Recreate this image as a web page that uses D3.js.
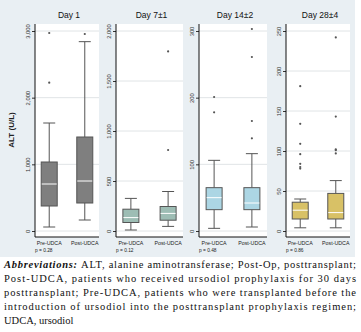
<!DOCTYPE html>
<html>
<head>
<meta charset="utf-8">
<script src="https://cdn.jsdelivr.net/npm/d3@7"></script>
<style>
  body { margin: 0; background: #fff; }
  svg text { font-family: "Liberation Sans", Arial, sans-serif; }
</style>
</head>
<body>
<script>
// panel data (ALT U/L): [lowWhisker, q1, median, q3, highWhisker]
var panelTitles = ["Day 1", "Day 7\u00b11", "Day 14\u00b12", "Day 28\u00b14"];
var groups = ["Pre-UDCA", "Post-UDCA"];
var pValues = ["p = 0.28", "p = 0.12", "p = 0.48", "p = 0.86"];

var day1Pre = [60, 375, 705, 1035, 1620];
var day1Post = [165, 420, 750, 1410, 2840];
var day7Pre = [10, 85, 134, 218, 326];
var day7Post = [46, 108, 176, 245, 395];
var day14Pre = [4, 32, 50, 65, 106];
var day14Post = [6, 32, 42, 65, 116];
var day28Pre = [4, 15, 26, 36, 40];
var day28Post = [4, 15, 23, 47, 63];

var day1Out = [[2225, 2970], [2955]];
var day7Out = [[], [810, 1796]];
var day14Out = [[178, 201], [139, 165, 261, 303]];
var day28Out = [[78, 80, 84, 96, 109, 134, 181], [97, 101, 102, 143, 242]];

var yTicks1 = [0, 1000, 2000, 3000];
var yTicks2 = [0, 500, 1000, 1500, 2000];
var yTicks3 = [0, 100, 200, 300];
var yTicks4 = [0, 50, 100, 150, 200, 250];

var boxColors = ["#7f7f7f", "#9dbdb4", "#acd6e4", "#d8c166"];

var panels = [
  {stats: [day1Pre, day1Post], out: day1Out, ticks: yTicks1, x0: 35, x1: 99},
  {stats: [day7Pre, day7Post], out: day7Out, ticks: yTicks2, x0: 116, x1: 183},
  {stats: [day14Pre, day14Post], out: day14Out, ticks: yTicks3, x0: 199, x1: 267},
  {stats: [day28Pre, day28Post], out: day28Out, ticks: yTicks4, x0: 286, x1: 350}
];

var svg = d3.select("body").append("svg")
  .attr("width", 361)
  .attr("height", 332);

svg.append("rect")
  .attr("width", 355).attr("height", 257)
  .attr("fill", "#e9eff3");

var zeroY = 231, topTickY = 31, plotTop = 24, plotBottom = 237;

svg.append("text")
  .attr("transform", "translate(14,130) rotate(-90)")
  .attr("text-anchor", "middle")
  .attr("font-size", 8)
  .attr("font-weight", "bold")
  .attr("fill", "#222")
  .text("ALT (U/L)");

panels.forEach(function(p, i) {
  var maxTick = p.ticks[p.ticks.length - 1];
  var y = d3.scaleLinear().domain([0, maxTick]).range([zeroY, topTickY]);
  var x = d3.scaleBand().domain(groups).range([p.x0, p.x1]).paddingInner(0.9).paddingOuter(0.35);
  var g = svg.append("g");

  g.append("rect")
    .attr("x", p.x0).attr("y", plotTop)
    .attr("width", p.x1 - p.x0).attr("height", plotBottom - plotTop)
    .attr("fill", "#fff");

  // gridlines
  g.selectAll(".grid").data(p.ticks).enter().append("line")
    .attr("x1", p.x0).attr("x2", p.x1)
    .attr("y1", function(d) { return y(d); })
    .attr("y2", function(d) { return y(d); })
    .attr("stroke", "#e0e4e6").attr("stroke-width", 1);

  // y axis
  var yAxis = g.append("g")
    .attr("transform", "translate(" + p.x0 + ",0)")
    .call(d3.axisLeft(y).tickValues(p.ticks).tickSize(3).tickFormat(d3.format(",")));
  yAxis.select(".domain").remove();
  yAxis.selectAll("line").attr("stroke", "#333");
  yAxis.selectAll("text")
    .attr("font-size", 5.8)
    .attr("fill", "#333")
    .attr("transform", "translate(-5,0) rotate(-90)")
    .attr("x", 0).attr("y", 0).attr("dy", "0")
    .attr("text-anchor", "middle");

  g.append("line")
    .attr("x1", p.x0).attr("x2", p.x0)
    .attr("y1", plotTop).attr("y2", plotBottom)
    .attr("stroke", "#111").attr("stroke-width", 1);
  g.append("line")
    .attr("x1", p.x0).attr("x2", p.x1)
    .attr("y1", plotBottom).attr("y2", plotBottom)
    .attr("stroke", "#111").attr("stroke-width", 1);

  // title
  g.append("text")
    .attr("x", (p.x0 + p.x1) / 2 + 2).attr("y", 18)
    .attr("text-anchor", "middle")
    .attr("font-size", 8.5)
    .attr("fill", "#111")
    .text(panelTitles[i]);

  // category labels
  g.selectAll(".cat").data(groups).enter().append("text")
    .attr("x", function(d) { return x(d) + x.bandwidth() / 2; })
    .attr("y", 245)
    .attr("text-anchor", "middle")
    .attr("font-size", 5.3)
    .attr("fill", "#222")
    .text(function(d) { return d; });

  g.append("text")
    .attr("x", p.x0).attr("y", 252)
    .attr("font-size", 4.8)
    .attr("fill", "#222")
    .text(pValues[i]);

  var boxW = 16;
  p.stats.forEach(function(s, j) {
    var cx = x(groups[j]) + x.bandwidth() / 2;
    var cap = 6;
    // whiskers
    g.append("line").attr("x1", cx).attr("x2", cx)
      .attr("y1", y(s[0])).attr("y2", y(s[1]))
      .attr("stroke", "#555").attr("stroke-width", 1);
    g.append("line").attr("x1", cx).attr("x2", cx)
      .attr("y1", y(s[3])).attr("y2", y(s[4]))
      .attr("stroke", "#555").attr("stroke-width", 1);
    g.append("line").attr("x1", cx - cap).attr("x2", cx + cap)
      .attr("y1", y(s[0])).attr("y2", y(s[0]))
      .attr("stroke", "#555").attr("stroke-width", 1);
    g.append("line").attr("x1", cx - cap).attr("x2", cx + cap)
      .attr("y1", y(s[4])).attr("y2", y(s[4]))
      .attr("stroke", "#555").attr("stroke-width", 1);
    // box
    g.append("rect")
      .attr("x", cx - boxW / 2).attr("y", y(s[3]))
      .attr("width", boxW).attr("height", y(s[1]) - y(s[3]))
      .attr("fill", boxColors[i])
      .attr("stroke", "#555").attr("stroke-width", 1);
    g.append("line")
      .attr("x1", cx - boxW / 2 + 0.5).attr("x2", cx + boxW / 2 - 0.5)
      .attr("y1", y(s[2])).attr("y2", y(s[2]))
      .attr("stroke", "#fff").attr("stroke-width", 1);
    // outliers
    g.selectAll(".o" + j).data(p.out[j]).enter().append("circle")
      .attr("cx", cx).attr("cy", function(d) { return y(d); })
      .attr("r", 1.1)
      .attr("fill", "#555");
  });
});

// caption
var captionLines = [
  "ALT, alanine aminotransferase; Post-Op, posttransplant;",
  "Post-UDCA, patients who received ursodiol prophylaxis for 30 days",
  "posttransplant; Pre-UDCA, patients who were transplanted before the",
  "introduction of ursodiol into the posttransplant prophylaxis regimen;",
  "UDCA, ursodiol"
];
var cap = svg.append("g").attr("fill", "#111");
captionLines.forEach(function(line, k) {
  var t = cap.append("text")
    .attr("x", 4).attr("y", 268 + k * 14)
    .style("font-family", "'Liberation Serif', serif")
    .style("font-size", "10.5px");
  if (k === 0) {
    t.append("tspan").attr("font-weight", "bold").attr("font-style", "italic").text("Abbreviations: ");
  }
  t.append("tspan").text(line);
  if (k < 4) {
    t.attr("textLength", 352).attr("lengthAdjust", "spacing");
  }
});
</script>
</body>
</html>
